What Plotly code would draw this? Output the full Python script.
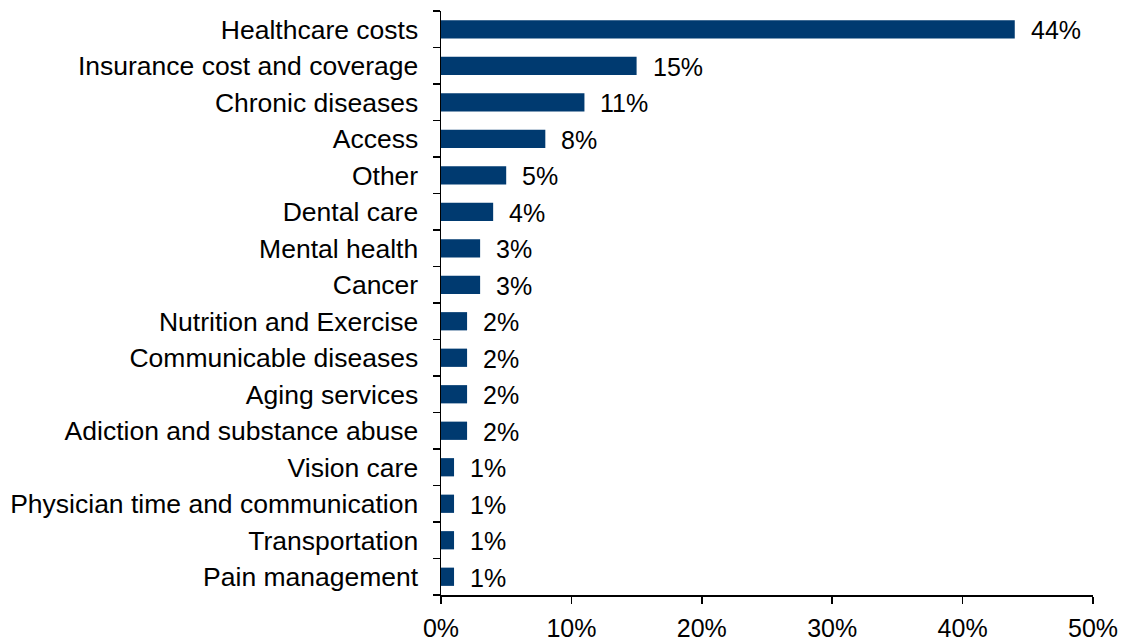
import plotly.graph_objects as go

categories = [
    "Healthcare costs", "Insurance cost and coverage", "Chronic diseases", "Access",
    "Other", "Dental care", "Mental health", "Cancer", "Nutrition and Exercise",
    "Communicable diseases", "Aging services", "Adiction and substance abuse",
    "Vision care", "Physician time and communication", "Transportation", "Pain management",
]
values = [44, 15, 11, 8, 5, 4, 3, 3, 2, 2, 2, 2, 1, 1, 1, 1]
x_ticks = [0, 10, 20, 30, 40, 50]
x_tick_labels = ["0%", "10%", "20%", "30%", "40%", "50%"]

FONT = "Liberation Sans, Arial, sans-serif"
BAR_COLOR = "#003A70"

fig = go.Figure()
fig.add_trace(go.Bar(
    x=values, y=categories, orientation="h",
    marker=dict(color=BAR_COLOR, line=dict(width=0)),
    width=0.5,
    hoverinfo="skip",
))

for c, v in zip(categories, values):
    fig.add_annotation(
        x=v, y=c, text=f"{v}%", showarrow=False,
        xanchor="left", yanchor="middle", xshift=14, yshift=-1,
        font=dict(family=FONT, size=25, color="black"),
    )

fig.update_layout(
    width=1128, height=640,
    margin=dict(l=441, r=35, t=11, b=45),
    plot_bgcolor="white", paper_bgcolor="white",
    showlegend=False,
    font=dict(family=FONT, size=25, color="black"),
    xaxis=dict(
        range=[0, 50], tickvals=x_ticks, ticktext=x_tick_labels,
        showgrid=False, zeroline=False, automargin=False,
        showline=True, linecolor="black", linewidth=1.5,
        ticks="outside", ticklen=7, tickcolor="black", tickwidth=1.5,
        ticklabelstandoff=3,
        tickfont=dict(family=FONT, size=25),
    ),
    yaxis=dict(
        categoryorder="array", categoryarray=categories[::-1],
        showgrid=False, zeroline=False, automargin=False,
        showline=True, linecolor="black", linewidth=1.5,
        ticks="outside", ticklen=7, tickcolor="black", tickwidth=1.5,
        tickson="boundaries",
        ticklabelstandoff=16,
        tickfont=dict(family=FONT, size=26.5),
    ),
)

fig.write_html(
    "out.html",
    config={"displayModeBar": False, "staticPlot": True},
    post_script="document.body.style.margin='0';document.body.style.overflow='hidden';",
)
